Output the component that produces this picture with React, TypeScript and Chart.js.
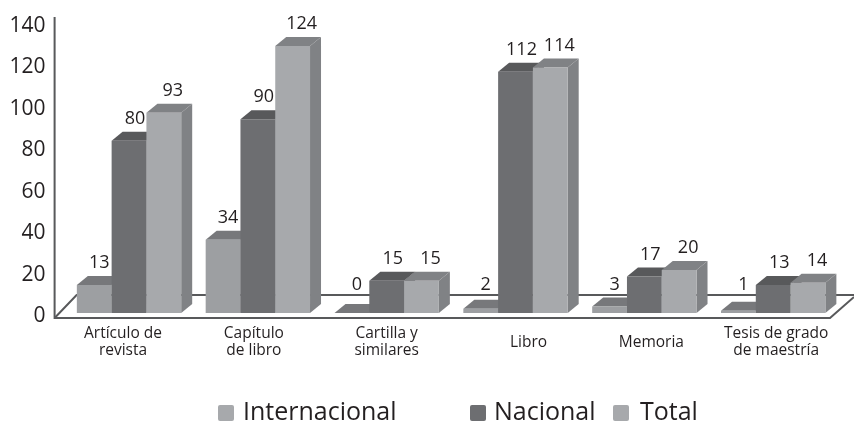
import React, { useEffect, useRef } from "react";
import { Chart, registerables } from "chart.js";

Chart.register(...registerables);

const categories = [
  ["Artículo de", "revista"],
  ["Capítulo", "de libro"],
  ["Cartilla y", "similares"],
  "Libro",
  "Memoria",
  ["Tesis de grado", "de maestría"],
];
const internacional = [13, 34, 0, 2, 3, 1];
const nacional = [80, 90, 15, 112, 17, 13];
const total = [93, 124, 15, 114, 20, 14];

const FONT = '"Open Sans", "Noto Sans", sans-serif';
const DEPTH_X = 11;
const DEPTH_Y = 9;
const LINE = "#58595b";

const faces = [
  { front: "#9d9fa2", top: "#77787b", side: "#808285", labelDx: 5 },
  { front: "#6d6e71", top: "#58595b", side: "#58595b", labelDx: 6 },
  { front: "#a7a9ac", top: "#808285", side: "#808285", labelDx: 9 },
];
const legendSlots = [
  { box: 218, text: 243 },
  { box: 470, text: 494 },
  { box: 613, text: 640 },
];
const categoryLabelNudge = [-6, -4, 0, 13, 7, 3];

const stagePlugin = {
  id: "stage",
  beforeDraw(chart: any) {
    const items = chart.scales.x.getLabelItems(chart.chartArea);
    items.forEach((item: any, i: number) => {
      if (!item.nudged) {
        item.options.translation[0] += categoryLabelNudge[i];
        item.nudged = true;
      }
    });
  },
  beforeDatasetsDraw(chart: any) {
    const { ctx } = chart;
    const { left, bottom } = chart.chartArea;
    ctx.save();
    ctx.strokeStyle = LINE;
    ctx.lineWidth = 2;
    ctx.lineJoin = "miter";
    ctx.beginPath();
    ctx.moveTo(left - 10, 17);
    ctx.lineTo(left - 10, bottom + 2);
    ctx.lineTo(830, bottom + 2);
    ctx.lineTo(854, bottom - 19);
    ctx.stroke();
    ctx.beginPath();
    ctx.moveTo(left - 10, bottom + 2);
    ctx.lineTo(left + 12, bottom - 21);
    ctx.lineTo(854, bottom - 21);
    ctx.stroke();
    ctx.restore();
  },
  beforeDatasetDraw() {
    return false;
  },
  afterDatasetsDraw(chart: any) {
    const { ctx } = chart;
    chart.data.datasets.forEach((_: any, di: number) => {
      const meta = chart.getDatasetMeta(di);
      const face = faces[di];
      meta.data.forEach((el: any) => {
        const l = el.x - el.width / 2;
        const r = el.x + el.width / 2;
        const t = el.y;
        const b = el.base;
        ctx.save();
        ctx.fillStyle = face.side;
        ctx.beginPath();
        ctx.moveTo(r, t);
        ctx.lineTo(r + DEPTH_X, t - DEPTH_Y);
        ctx.lineTo(r + DEPTH_X, b - DEPTH_Y);
        ctx.lineTo(r, b);
        ctx.closePath();
        ctx.fill();
        ctx.fillStyle = face.top;
        ctx.beginPath();
        ctx.moveTo(l, t);
        ctx.lineTo(l + DEPTH_X, t - DEPTH_Y);
        ctx.lineTo(r + DEPTH_X, t - DEPTH_Y);
        ctx.lineTo(r, t);
        ctx.closePath();
        ctx.fill();
        ctx.restore();
        el.draw(ctx);
      });
    });
    ctx.save();
    ctx.fillStyle = "#231f20";
    ctx.font = `18px ${FONT}`;
    ctx.textAlign = "center";
    ctx.textBaseline = "middle";
    chart.data.datasets.forEach((ds: any, di: number) => {
      chart.getDatasetMeta(di).data.forEach((el: any, i: number) => {
        ctx.fillText(String(ds.data[i]), el.x + faces[di].labelDx, Math.min(el.y - 22, 285));
      });
    });
    ctx.restore();
  },
  afterDraw(chart: any) {
    const { ctx } = chart;
    ctx.save();
    ctx.textBaseline = "alphabetic";
    ctx.textAlign = "left";
    ctx.font = `25px ${FONT}`;
    chart.data.datasets.forEach((ds: any, di: number) => {
      const slot = legendSlots[di];
      ctx.fillStyle = di === 1 ? "#6d6e71" : "#a7a9ac";
      ctx.beginPath();
      ctx.roundRect(slot.box, 405, 16, 16, 2);
      ctx.fill();
      ctx.fillStyle = "#231f20";
      ctx.fillText(ds.label, slot.text, 420);
    });
    ctx.restore();
  },
};

export default function App() {
  const ref = useRef<HTMLCanvasElement>(null);
  useEffect(() => {
    const chart = new Chart(ref.current as HTMLCanvasElement, {
      type: "bar",
      data: {
        labels: categories as any,
        datasets: [
          { label: "Internacional", data: internacional, backgroundColor: faces[0].front, yAxisID: "bars" },
          { label: "Nacional", data: nacional, backgroundColor: faces[1].front, yAxisID: "bars" },
          { label: "Total", data: total, backgroundColor: faces[2].front, yAxisID: "bars" },
        ],
      },
      options: {
        responsive: false,
        animation: false,
        layout: { padding: { top: 22, right: 16.4, left: 0, bottom: 0 } },
        plugins: { legend: { display: false }, tooltip: { enabled: false } },
        datasets: { bar: { barPercentage: 1, categoryPercentage: 0.81 } },
        scales: {
          x: {
            grid: { display: false },
            border: { display: false },
            afterFit: (s: any) => {
              s.height = 106;
            },
            ticks: {
              autoSkip: false,
              maxRotation: 0,
              minRotation: 0,
              padding: 10,
              crossAlign: "center",
              color: "#231f20",
              font: { family: FONT, size: 15.5, lineHeight: 1.05 },
            },
          },
          y: {
            position: "left",
            min: 0,
            max: 141,
            grid: { display: false },
            border: { display: false },
            afterFit: (s: any) => {
              s.width = 64.6;
            },
            ticks: {
              stepSize: 20,
              includeBounds: false,
              padding: 11,
              color: "#231f20",
              font: { family: FONT, size: 21 },
            },
          },
          bars: {
            display: false,
            min: -1.39,
            max: 134.4,
          },
        },
      } as any,
      plugins: [stagePlugin as any],
    });
    return () => chart.destroy();
  }, []);
  return (
    <canvas
      ref={ref}
      width={854}
      height={422}
      style={{ position: "absolute", left: 0, top: 0, display: "block", width: 854, height: 422 }}
    />
  );
}
